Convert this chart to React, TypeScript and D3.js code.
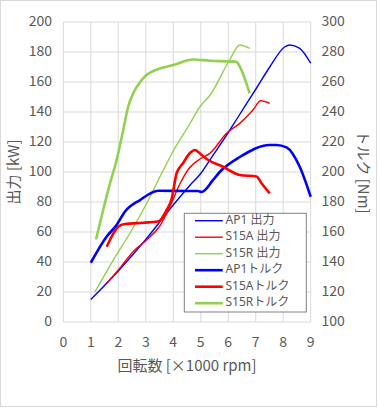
import React from "react";
import * as d3 from "d3";

type P = [number, number];

const xTicks = [0, 1, 2, 3, 4, 5, 6, 7, 8, 9];
const leftTicks = [0, 20, 40, 60, 80, 100, 120, 140, 160, 180, 200];
const rightTicks = [100, 120, 140, 160, 180, 200, 220, 240, 260, 280, 300];

const ap1Power: P[] = [[1.0, 15], [2.0, 34], [3.0, 55], [4.0, 78], [4.6, 91], [5.0, 99], [5.33, 108], [6.06, 128], [6.3, 135], [7.03, 156], [7.51, 170], [8.06, 183.5], [8.24, 184.7], [8.6, 182.4], [9.0, 172.5]];
const s15aPower: P[] = [[1.58, 25.8], [2.0, 34.7], [2.54, 46.9], [3.03, 54.7], [3.51, 64], [3.88, 77], [4.24, 92], [4.6, 103], [5.0, 109], [5.33, 112.4], [5.94, 125.8], [6.42, 132.4], [6.9, 141.3], [7.18, 147.5], [7.51, 145.8]];
const s15rPower: P[] = [[1.15, 20], [1.82, 41.3], [2.42, 59], [3.03, 79], [3.63, 101], [4.0, 114], [4.6, 132], [4.97, 143.5], [5.33, 151], [6.06, 175], [6.42, 184.7], [6.78, 182.4]];
const ap1Torque: P[] = [[1.0, 139.5], [1.58, 157], [1.94, 164.7], [2.24, 173.5], [2.79, 181.3], [3.45, 187.5], [4.6, 187.3], [4.9, 187.3], [5.03, 186.7], [5.45, 194.7], [5.69, 200], [6.42, 210], [7.51, 218], [7.75, 218], [8.12, 216.4], [8.6, 203.5], [9.0, 183.5]];
const s15aTorque: P[] = [[1.58, 150.2], [2.0, 163.5], [2.24, 165.3], [2.91, 166.2], [3.45, 167], [3.76, 174.7], [3.94, 182], [4.12, 199], [4.36, 206], [4.6, 212.5], [4.79, 214.7], [5.03, 211.3], [5.27, 208], [5.81, 203.5], [6.42, 198], [7.03, 197], [7.21, 192.5], [7.51, 185.8]];
const s15rTorque: P[] = [[1.19, 155], [1.7, 192.5], [1.94, 208], [2.18, 228], [2.36, 243.5], [2.54, 252.4], [2.85, 261.3], [3.03, 264.7], [3.51, 269], [4.0, 271.3], [4.72, 275], [5.33, 274.2], [6.3, 273.5], [6.42, 270.2], [6.78, 252.4]];

const BLUE = "#0000ff";
const RED = "#ff0000";
const GREEN = "#92d050";

const series = [
  { name: "AP1 出力", data: ap1Power, color: BLUE, w: 1.4, axis: "L" },
  { name: "S15A 出力", data: s15aPower, color: RED, w: 1.4, axis: "L" },
  { name: "S15R 出力", data: s15rPower, color: GREEN, w: 1.4, axis: "L" },
  { name: "AP1トルク", data: ap1Torque, color: BLUE, w: 2.6, axis: "R" },
  { name: "S15Aトルク", data: s15aTorque, color: RED, w: 2.6, axis: "R" },
  { name: "S15Rトルク", data: s15rTorque, color: GREEN, w: 2.6, axis: "R" },
];

const W = 378, H = 408;
const PL = 63.3, PR = 310.7, PT = 22, PB = 322;
const FONT = "'Noto Sans CJK JP', 'Noto Sans', sans-serif";
const LFONT = "'Noto Sans', 'Noto Sans CJK JP', sans-serif";
const TXT = "#595959";
const GRID = "#d9d9d9";

export default function App() {
  const x = d3.scaleLinear().domain([0, 9]).range([PL, PR]);
  const yL = d3.scaleLinear().domain([0, 200]).range([PB, PT]);
  const yR = d3.scaleLinear().domain([100, 300]).range([PB, PT]);

  const lg = { x: 184.3, y: 213.3, w: 122, h: 98.7 };

  return (
    <svg width={W} height={H} style={{ position: "absolute", left: 0, top: 0 }} fontFamily={FONT}>
      <rect x={0} y={0} width={W} height={H} fill="#fff" />
      <rect x={0.5} y={0.5} width={376} height={406} fill="none" stroke={GRID} />
      {xTicks.map((t) => (
        <line key={"vx" + t} x1={x(t)} x2={x(t)} y1={PT} y2={PB} stroke={GRID} strokeWidth={1} />
      ))}
      {leftTicks.map((t) => (
        <line key={"hy" + t} x1={PL} x2={PR} y1={yL(t)} y2={yL(t)} stroke={GRID} strokeWidth={1} />
      ))}
      {series.map((s) => {
        const ys = s.axis === "L" ? yL : yR;
        const gen = d3.line<P>().x((d) => x(d[0])).y((d) => ys(d[1])).curve(d3.curveMonotoneX);
        return <path key={s.name} d={gen(s.data) || ""} fill="none" stroke={s.color} strokeWidth={s.w} strokeLinejoin="round" />;
      })}
      {xTicks.map((t) => (
        <text key={"tx" + t} x={x(t)} y={343} textAnchor="middle" dominantBaseline="middle" fontSize={14} fill={TXT}>{t}</text>
      ))}
      {leftTicks.map((t) => (
        <text key={"tl" + t} x={52} y={yL(t)} textAnchor="end" dominantBaseline="middle" fontSize={14} fill={TXT}>{t}</text>
      ))}
      {rightTicks.map((t) => (
        <text key={"tr" + t} x={321.5} y={yR(t)} textAnchor="start" dominantBaseline="middle" fontSize={14} fill={TXT}>{t}</text>
      ))}
      <text x={187} y={367} textAnchor="middle" dominantBaseline="middle" fontSize={15} fill={TXT}>回転数 [×1000 rpm]</text>
      <text transform="translate(15,172) rotate(-90)" textAnchor="middle" dominantBaseline="middle" fontSize={15} fill={TXT}>出力 [kW]</text>
      <text transform="translate(362,172) rotate(90)" textAnchor="middle" dominantBaseline="middle" fontSize={15} fill={TXT}>トルク [Nm]</text>
      <rect x={lg.x} y={lg.y} width={lg.w} height={lg.h} fill="#fff" stroke="#808080" strokeWidth={1} />
      {series.map((s, i) => {
        const cy = 220.7 + i * 16.5;
        return (
          <g key={"lg" + s.name}>
            <line x1={195} x2={222.7} y1={cy} y2={cy} stroke={s.color} strokeWidth={s.w} />
            <text x={225.5} y={cy} dominantBaseline="middle" fontSize={12} fontFamily={LFONT} fill={TXT}>{s.name}</text>
          </g>
        );
      })}
    </svg>
  );
}
